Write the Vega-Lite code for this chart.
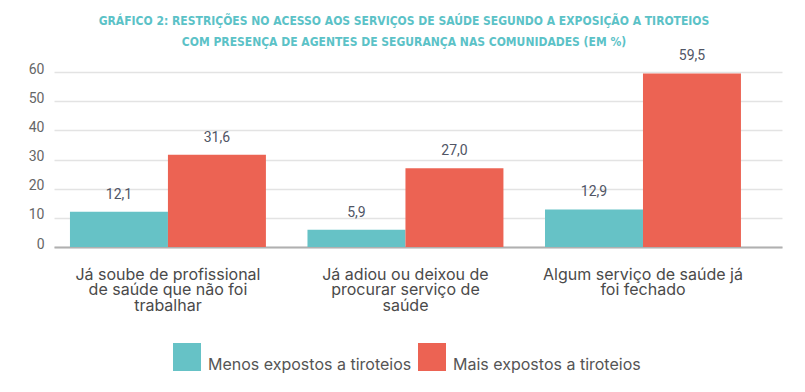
{
  "$schema": "https://vega.github.io/schema/vega-lite/v6.json",
  "width": 728,
  "height": 175,
  "autosize": {"type": "none"},
  "padding": {"left": 54, "top": 72, "right": 23, "bottom": 145},
  "background": "white",
  "title": {
    "text": ["GRÁFICO 2:  RESTRIÇÕES NO ACESSO AOS SERVIÇOS DE SAÚDE SEGUNDO A EXPOSIÇÃO A TIROTEIOS", "COM PRESENÇA DE AGENTES DE SEGURANÇA NAS COMUNIDADES (EM %)"],
    "font": "DejaVu Sans Condensed, Liberation Sans Narrow, Roboto Condensed, DejaVu Sans",
    "fontWeight": "bold",
    "fontSize": 12,
    "color": "#5BC2C7",
    "lineHeight": 21,
    "anchor": "middle",
    "dx": -14,
    "offset": 0
  },
  "data": {
    "values": [
      {"categoria": "Já soube de profissional de saúde que não foi trabalhar", "grupo": "Menos expostos a tiroteios", "valor": 12.1},
      {"categoria": "Já soube de profissional de saúde que não foi trabalhar", "grupo": "Mais expostos a tiroteios", "valor": 31.6},
      {"categoria": "Já adiou ou deixou de procurar serviço de saúde", "grupo": "Menos expostos a tiroteios", "valor": 5.9},
      {"categoria": "Já adiou ou deixou de procurar serviço de saúde", "grupo": "Mais expostos a tiroteios", "valor": 27.0},
      {"categoria": "Algum serviço de saúde já foi fechado", "grupo": "Menos expostos a tiroteios", "valor": 12.9},
      {"categoria": "Algum serviço de saúde já foi fechado", "grupo": "Mais expostos a tiroteios", "valor": 59.5}
    ]
  },
  "encoding": {
    "x": {
      "field": "categoria",
      "type": "nominal",
      "sort": null,
      "scale": {"paddingInner": 0.175, "paddingOuter": 0.12, "align": 0.28},
      "axis": {
        "title": null,
        "labelAngle": 0,
        "ticks": false,
        "domain": true,
        "domainColor": "#b0b0b0",
        "domainWidth": 2,
        "labelFont": "Inter",
        "labelFontSize": 16,
        "labelColor": "#4a4a4a",
        "labelPadding": 19,
        "labelLineHeight": 15.5,
        "labelLimit": 300,
        "labelExpr": "datum.label == 'Já soube de profissional de saúde que não foi trabalhar' ? ['Já soube de profissional', 'de saúde que não foi', 'trabalhar'] : datum.label == 'Já adiou ou deixou de procurar serviço de saúde' ? ['Já adiou ou deixou de', 'procurar serviço de', 'saúde'] : ['Algum serviço de saúde já', 'foi fechado']"
      }
    },
    "xOffset": {
      "field": "grupo",
      "type": "nominal",
      "sort": ["Menos expostos a tiroteios", "Mais expostos a tiroteios"],
      "scale": {"paddingInner": 0, "paddingOuter": 0}
    },
    "y": {
      "field": "valor",
      "type": "quantitative",
      "scale": {"domain": [0, 60], "nice": false},
      "axis": {
        "title": null,
        "values": [0, 10, 20, 30, 40, 50, 60],
        "ticks": false,
        "domain": false,
        "grid": true,
        "gridColor": "#e3e3e3",
        "gridWidth": 1.5,
        "labelFont": "Roboto",
        "labelFontSize": 14,
        "labelColor": "#666666",
        "labelPadding": 10,
        "labelBaseline": "alphabetic",
        "labelOffset": 1
      }
    }
  },
  "layer": [
    {
      "mark": {"type": "bar"},
      "encoding": {
        "color": {
          "field": "grupo",
          "type": "nominal",
          "sort": ["Menos expostos a tiroteios", "Mais expostos a tiroteios"],
          "scale": {"domain": ["Menos expostos a tiroteios", "Mais expostos a tiroteios"], "range": ["#66C2C6", "#EC6353"]},
          "legend": {
            "title": null,
            "orient": "none",
            "direction": "horizontal",
            "legendX": 119,
            "legendY": 271,
            "padding": 0,
            "symbolType": "square",
            "symbolSize": 784,
            "symbolStrokeWidth": 0,
            "symbolOpacity": 1,
            "labelFont": "Inter",
            "labelFontSize": 16,
            "labelColor": "#555555",
            "labelBaseline": "top",
            "labelOffset": 7,
            "columnPadding": 6,
            "labelLimit": 300
          }
        }
      }
    },
    {
      "mark": {"type": "text", "baseline": "alphabetic", "dy": -13, "font": "Roboto", "fontSize": 14, "color": "#505565"},
      "encoding": {
        "text": {"field": "valor", "type": "quantitative", "format": ".1f", "formatType": "number"}
      }
    }
  ],
  "config": {
    "view": {"stroke": null},
    "locale": {"number": {"decimal": ",", "thousands": ".", "grouping": [3], "currency": ["R$", ""]}}
  }
}
